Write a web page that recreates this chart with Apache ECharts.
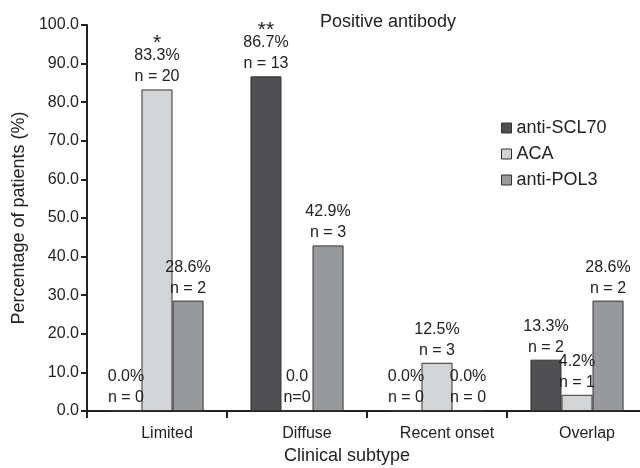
<!DOCTYPE html>
<html>
<head>
<meta charset="utf-8">
<script src="https://cdn.jsdelivr.net/npm/echarts@6/dist/echarts.min.js"></script>
<style>html,body{margin:0;padding:0;background:#fff}#c{width:640px;height:468px}</style>
</head>
<body>
<div id="c"></div>
<script>
const categories = ['Limited', 'Diffuse', 'Recent onset', 'Overlap'];
const seriesNames = ['anti-SCL70', 'ACA', 'anti-POL3'];
const scl70Values = [0.0, 86.7, 0.0, 13.3];
const acaValues = [83.3, 0.0, 12.5, 4.2];
const pol3Values = [28.6, 42.9, 0.0, 28.6];
const scl70Labels = ['0.0%\nn = 0', '**\n86.7%\nn = 13', '0.0%\nn = 0', '13.3%\nn = 2'];
const acaLabels = ['*\n83.3%\nn = 20', '0.0\nn=0', '12.5%\nn = 3', '4.2%\nn = 1'];
const pol3Labels = ['28.6%\nn = 2', '42.9%\nn = 3', '0.0%\nn = 0', '28.6%\nn = 2'];
const yTicks = [0, 10, 20, 30, 40, 50, 60, 70, 80, 90, 100];

const colors = ['#505052', '#d3d4d6', '#98999c'];
const FONT = 'Liberation Sans, Arial, sans-serif';

function fmt(labels) {
  return function (p) {
    const lines = labels[p.dataIndex].split('\n');
    return lines.map(l => (l.indexOf('*') === 0 ? '{s|' + l + '}' : '{t|' + l + '}')).join('\n');
  };
}

function mkSeries(i, values, labels) {
  return {
    name: seriesNames[i],
    type: 'bar',
    data: values,
    barGap: '0%',
    barCategoryGap: '33.5%',
    itemStyle: { color: colors[i], borderColor: '#333', borderWidth: 1 },
    label: {
      show: true,
      position: 'top',
      distance: 2,
      color: '#222',
      fontFamily: FONT,
      formatter: fmt(labels),
      rich: {
        s: { fontSize: 21, lineHeight: 13, fontFamily: FONT, color: '#222', padding: [8, 0, 0, 0] },
        t: { fontSize: 16, lineHeight: 21, fontFamily: FONT, color: '#222' }
      }
    }
  };
}

const chart = echarts.init(document.getElementById('c'));
chart.setOption({
  animation: false,
  backgroundColor: '#fff',
  textStyle: { fontFamily: FONT },
  title: {
    text: 'Positive antibody',
    left: 383, top: 8, textAlign: 'center',
    textStyle: { fontSize: 18, fontWeight: 'normal', color: '#222', fontFamily: FONT }
  },
  legend: {
    orient: 'vertical', left: 496, top: 114,
    itemWidth: 10, itemHeight: 10, itemGap: 8,
    icon: 'rect',
    itemStyle: { borderColor: '#333', borderWidth: 1 },
    textStyle: { fontSize: 18, color: '#222', fontFamily: FONT, lineHeight: 18 },
    data: seriesNames
  },
  grid: { left: 87, right: -7, top: 25, bottom: 57, containLabel: false, outerBoundsMode: 'none' },
  xAxis: {
    type: 'category',
    data: categories,
    name: 'Clinical subtype',
    nameLocation: 'middle',
    nameGap: 31,
    nameTextStyle: { fontSize: 18, color: '#222', fontFamily: FONT, padding: [0, 40, 0, 0] },
    axisLine: { lineStyle: { color: '#222', width: 2 } },
    axisTick: { show: true, length: 7, alignWithLabel: false, lineStyle: { color: '#222', width: 2 } },
    axisLabel: { fontSize: 16, color: '#222', fontFamily: FONT, margin: 15, padding: [0, 0, 0, 20] }
  },
  yAxis: {
    type: 'value',
    min: yTicks[0], max: yTicks[yTicks.length - 1], interval: 10,
    name: 'Percentage of patients (%)',
    nameLocation: 'middle',
    nameGap: 58,
    nameTextStyle: { fontSize: 18, color: '#222', fontFamily: FONT },
    axisLine: { show: true, lineStyle: { color: '#222', width: 2 } },
    axisTick: { show: true, length: 6, lineStyle: { color: '#222', width: 2 } },
    splitLine: { show: false },
    axisLabel: { fontSize: 16, color: '#222', fontFamily: FONT, margin: 8, formatter: v => v.toFixed(1) }
  },
  series: [
    mkSeries(0, scl70Values, scl70Labels),
    mkSeries(1, acaValues, acaLabels),
    mkSeries(2, pol3Values, pol3Labels)
  ]
});
</script>
</body>
</html>
